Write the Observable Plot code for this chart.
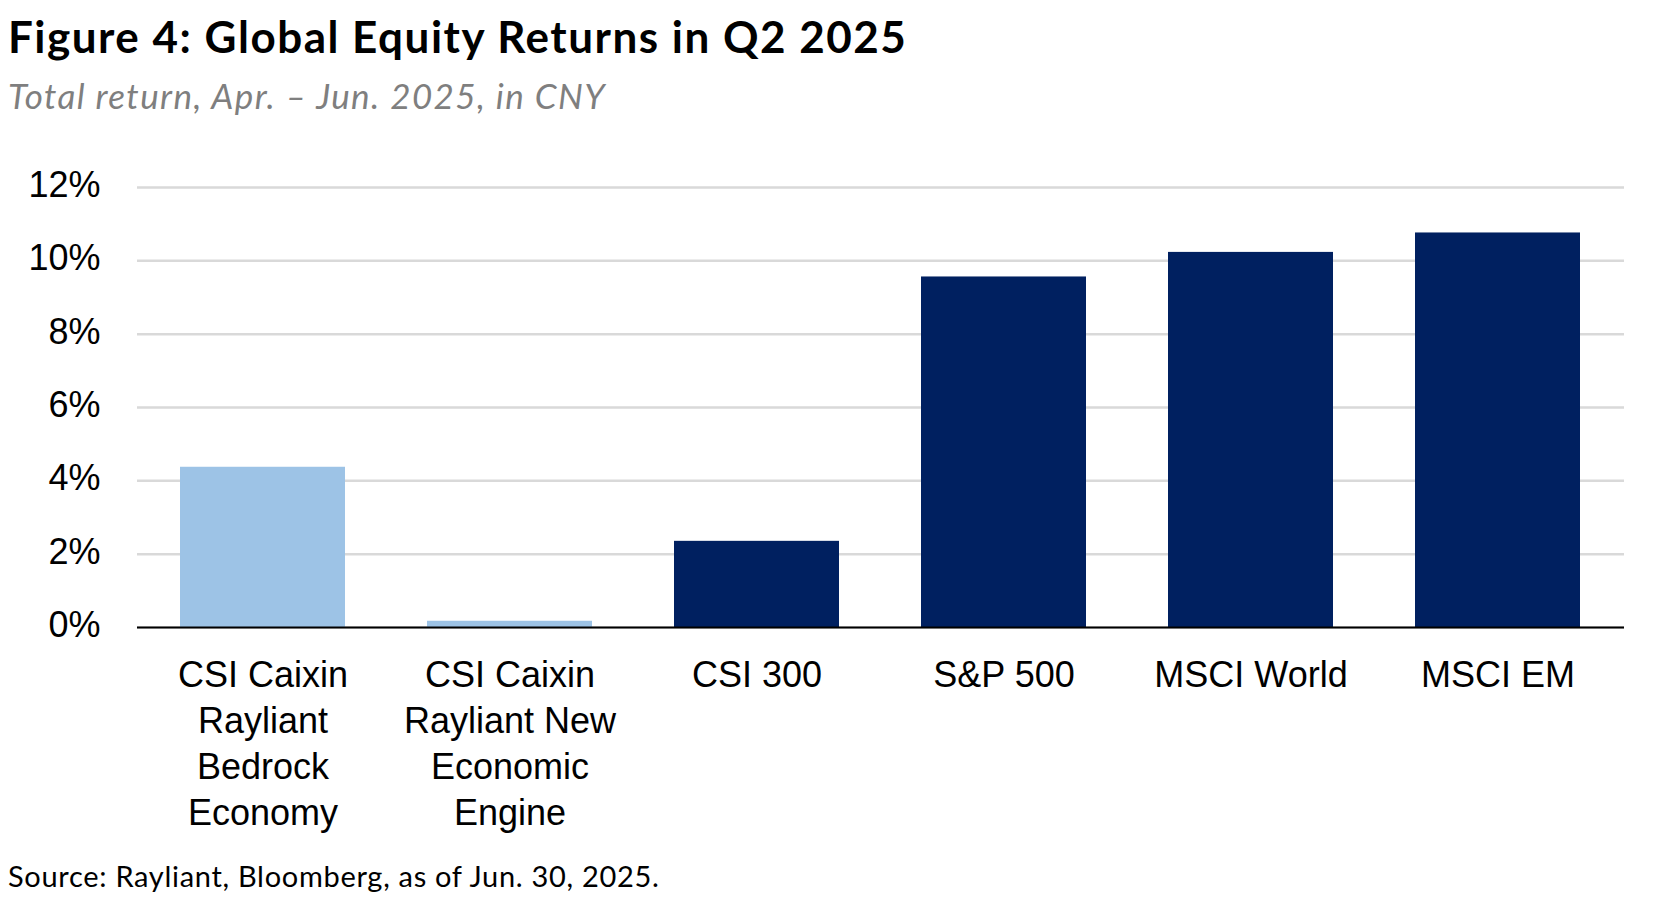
<!DOCTYPE html>
<html>
<head>
<meta charset="utf-8">
<script src="https://cdn.jsdelivr.net/npm/d3@7"></script>
<script src="https://cdn.jsdelivr.net/npm/@observablehq/plot@0.6"></script>
<style>
  html, body { margin: 0; padding: 0; background: #fff; }
  #wrap { position: relative; width: 1660px; height: 906px; overflow: hidden; }
  #title { position: absolute; left: 8px; top: 14px; font-family: Lato, sans-serif; font-weight: 700; font-size: 44px; letter-spacing: 1.5px; line-height: 1; color: #000; white-space: nowrap; }
  #subtitle { position: absolute; left: 8px; top: 78px; font-family: Lato, sans-serif; font-style: italic; font-size: 35px; letter-spacing: 1.4px; line-height: 1; color: #7f7f7f; white-space: nowrap; }
  #chart { position: absolute; left: 0; top: 140px; }
  #source { position: absolute; left: 8px; top: 861px; font-family: Lato, sans-serif; font-size: 29px; letter-spacing: 0.7px; line-height: 1; color: #000; white-space: nowrap; }
</style>
</head>
<body>
<div id="wrap">
  <div id="title">Figure 4: Global Equity Returns in Q2 2025</div>
  <div id="subtitle">Total return, Apr. – Jun. 2025, in CNY</div>
  <div id="chart"></div>
  <div id="source">Source: Rayliant, Bloomberg, as of Jun. 30, 2025.</div>
</div>
<script>
const categories = ["CSI Caixin Rayliant Bedrock Economy", "CSI Caixin Rayliant New Economic Engine", "CSI 300", "S&P 500", "MSCI World", "MSCI EM"];
const tickLabels = ["CSI Caixin\nRayliant\nBedrock\nEconomy", "CSI Caixin\nRayliant New\nEconomic\nEngine", "CSI 300", "S&P 500", "MSCI World", "MSCI EM"];
const returns = [4.37, 0.17, 2.35, 9.56, 10.23, 10.76];
const groups = ["Rayliant", "Rayliant", "Benchmark", "Benchmark", "Benchmark", "Benchmark"];
const yTicks = [0, 2, 4, 6, 8, 10, 12];

const data = categories.map((c, i) => ({category: c, value: returns[i], group: groups[i]}));
const labelOf = new Map(categories.map((c, i) => [c, tickLabels[i]]));

const chart = Plot.plot({
  width: 1660,
  height: 710,
  marginLeft: 137,
  marginRight: 36,
  marginTop: 47,
  marginBottom: 223,
  style: { fontFamily: "'Liberation Sans', Arial, sans-serif", background: "#fff" },
  x: { domain: categories, paddingInner: 0.33, paddingOuter: 0.165, label: null },
  y: { domain: [0, 12], label: null },
  color: { domain: ["Rayliant", "Benchmark"], range: ["#9dc3e6", "#002060"] },
  marks: [
    Plot.gridY(yTicks, { stroke: "#d9d9d9", strokeOpacity: 1, strokeWidth: 2.5 }),
    Plot.barY(data, { x: "category", y: "value", fill: "group" }),
    Plot.ruleY([0], { stroke: "#000", strokeWidth: 2 }),
    Plot.axisY(yTicks, { tickSize: 0, tickPadding: 37, tickFormat: d => d + "%", fontSize: 36, fill: "#000", dy: -2 }),
    Plot.axisX({ tickSize: 0, tickPadding: 27, tickFormat: d => labelOf.get(d), fontSize: 36, lineHeight: 1.28, fill: "#000" })
  ]
});
document.getElementById("chart").appendChild(chart);
</script>
</body>
</html>
